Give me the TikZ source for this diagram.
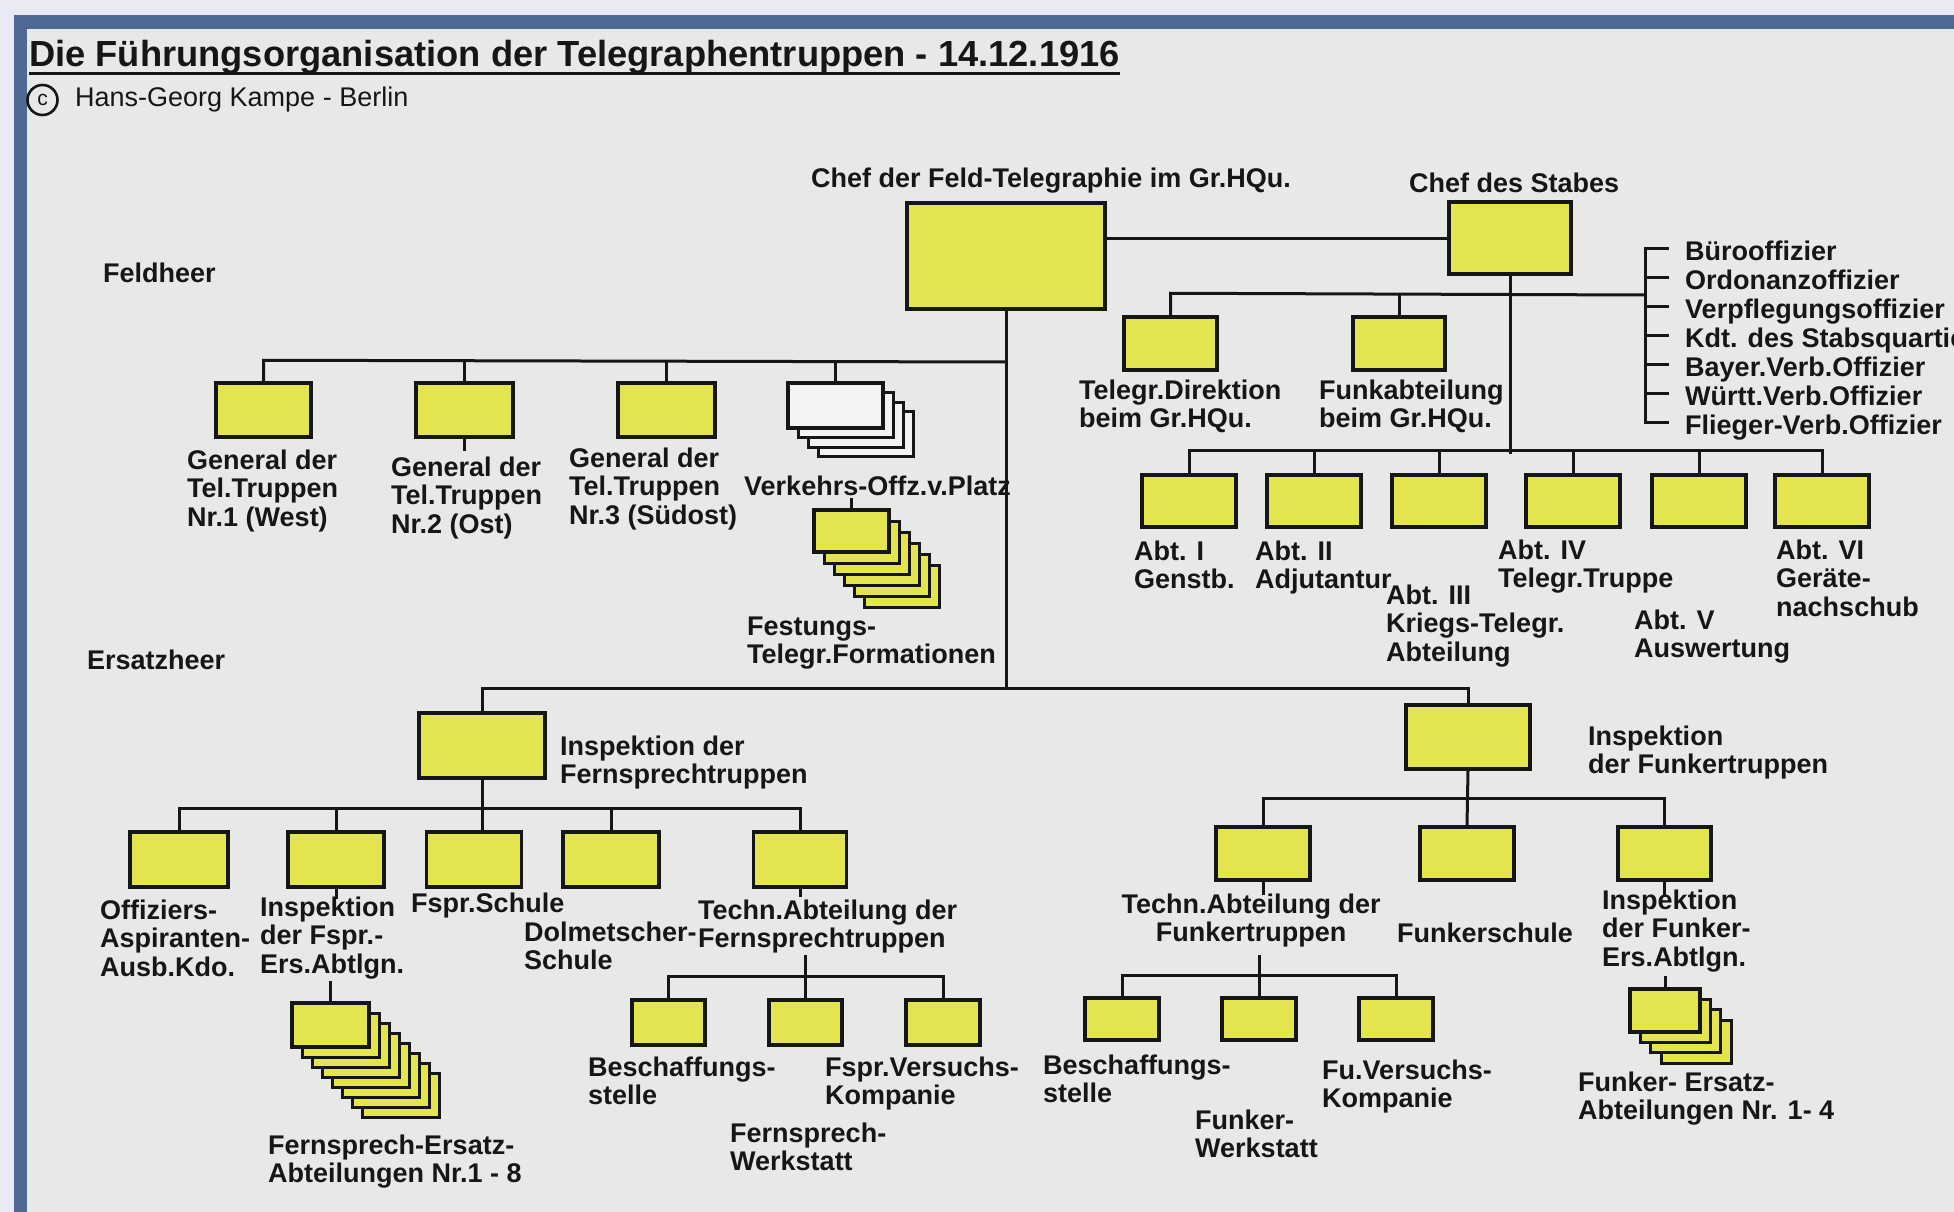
\documentclass[tikz,border=0pt]{standalone}
\usepackage{fontspec}
\setmainfont{Liberation Sans}
\usetikzlibrary{calc}
\definecolor{outer}{HTML}{E9EAF4}
\definecolor{framec}{HTML}{4E6A93}
\definecolor{paper}{HTML}{E8E9E6}
\definecolor{yel}{HTML}{E3E54E}
\definecolor{ink}{HTML}{161616}
\definecolor{sheetw}{HTML}{F2F3F2}
\newcommand\lblfont{\fontsize{27}{28.8}\selectfont\bfseries}
\begin{document}
\begin{tikzpicture}[x=1pt,y=-1pt,
  conn/.style={draw=ink, line width=3pt},
  boxs/.style={draw=ink, line width=3.5pt, fill=yel, inner sep=0pt, rectangle},
  bx/.style 2 args={boxs, minimum width=#1pt, minimum height=#2pt},
  sheet/.style={draw=ink, line width=3pt, fill=yel},
  wsheet/.style={draw=ink, line width=3pt, fill=sheetw},
  lab/.style={font=\lblfont, text=ink, align=left, inner sep=0pt, anchor=base west},
  labtwo/.style={lab, yshift=-28.8pt},
  labthree/.style={lab, yshift=-57.6pt},
  labctwo/.style={font=\lblfont, text=ink, align=center, inner sep=0pt, anchor=base, yshift=-28.8pt}]
\useasboundingbox (0,0) rectangle (1954,1212);
\clip (0,0) rectangle (1954,1212);
% background and frame
\fill[outer] (0,0) rectangle (1954,1212);
\fill[framec] (14,15) rectangle (1954,1212);
\fill[paper] (27,29) rectangle (1954,1212);

% title
\node[font=\fontsize{36.3}{40}\selectfont\bfseries, text=ink, inner sep=0pt, anchor=base west] (title) at (29,67) {Die Führungsorganisation der Telegraphentruppen - 14.12.1916};
\draw[line width=3pt, ink] ([yshift=-7pt]title.base west) -- ([yshift=-7pt]title.base east);
\node[circle, draw=ink, line width=2.6pt, inner sep=0pt, minimum size=30pt, text=ink, font=\fontsize{21}{21}\selectfont] (copy) at (42.5,100) {c};
\node[font=\fontsize{27}{30}\selectfont, text=ink, inner sep=0pt, anchor=base west] (author) at (75,107) {Hans-Georg Kampe - Berlin};

\node[lab] (feldheer) at (103,282) {Feldheer};
\node[lab] (ersatzheer) at (87,669) {Ersatzheer};

% top level
\node[bx={198}{106}] (chef) at (1006,256) {};
\node[bx={122}{72}] (stab) at (1510,238) {};
\node[lab] (chefL) at (811,187) {Chef der Feld-Telegraphie im Gr.HQu.};
\node[lab] (stabL) at (1409,192) {Chef des Stabes};
\draw[conn] (stab.west) -- (stab.west -| chef.east);

% Stab branch
\node[bx={93}{53}] (tdir) at (1170.5,343.5) {};
\node[bx={92}{53}] (funk) at (1399,343.5) {};
\node[labtwo] (tdirL) at (1079,399) {Telegr.Direktion\\beim Gr.HQu.};
\node[labtwo] (funkL) at (1319,399) {Funkabteilung\\beim Gr.HQu.};
\node[lab] (b1) at (1685,260) {Bürooffizier};
\node[lab] (b2) at (1685,289) {Ordonanzoffizier};
\node[lab] (b3) at (1685,318) {Verpflegungsoffizier};
\node[lab] (b4) at (1685,347) {Kdt. des Stabsquartiers};
\node[lab] (b5) at (1685,376) {Bayer.Verb.Offizier};
\node[lab] (b6) at (1685,405) {Württ.Verb.Offizier};
\node[lab] (b7) at (1685,434) {Flieger-Verb.Offizier};
\coordinate (brk) at (1645,295);
\draw[conn] ([xshift=-16pt,yshift=12pt]b1.base west) -- ++(-24,0) |- ([xshift=-16pt,yshift=12pt]b7.base west);
\foreach \b in {b2,b3,b4,b5,b6}
  \draw[conn] ([xshift=-16pt,yshift=12pt]\b.base west) -- ++(-24,0);
\draw[conn] (tdir.north) -- ++(0,-22) -- (brk);
\draw[conn] (funk.north) -- ++(0,-22);
\draw[conn] (stab.south) -- ++(0,178);

% Abt row
\node[bx={94}{52}] (abt1) at (1189,501) {};
\node[bx={94}{52}] (abt2) at (1314,501) {};
\node[bx={94}{52}] (abt3) at (1439,501) {};
\node[bx={94}{52}] (abt4) at (1573,501) {};
\node[bx={94}{52}] (abt5) at (1699,501) {};
\node[bx={94}{52}] (abt6) at (1822,501) {};
\draw[conn] (abt1.north) -- ++(0,-23) -| (abt6.north);
\foreach \a in {abt2,abt3,abt4,abt5}
  \draw[conn] (\a.north) -- ++(0,-23);
\node[labtwo] (abt1L) at (1134,560) {Abt. I\\Genstb.};
\node[labtwo] (abt2L) at (1255,560) {Abt. II\\Adjutantur};
\node[labthree] (abt3L) at (1386,604) {Abt. III\\Kriegs-Telegr.\\Abteilung};
\node[labtwo] (abt4L) at (1498,559) {Abt. IV\\Telegr.Truppe};
\node[labtwo] (abt5L) at (1634,629) {Abt. V\\Auswertung};
\node[labthree] (abt6L) at (1776,559) {Abt. VI\\Geräte-\\nachschub};

% Feldheer row
\coordinate (fb) at (1006,362);
\node[bx={95}{54}] (gen1) at (263.5,410) {};
\node[bx={97}{54}] (gen2) at (464.5,410) {};
\node[bx={97}{54}] (gen3) at (666.5,410) {};
\foreach \i in {3,2,1}
  \draw[wsheet] (788+10*\i,383+9.5*\i) rectangle ++(95,45);
\node[boxs, fill=sheetw, minimum width=95pt, minimum height=45pt] (verk) at (835.5,405.5) {};
\draw[conn] (gen1.north) -- ++(0,-21) -- (fb);
\draw[conn] (gen2.north) -- ++(0,-21);
\draw[conn] (gen3.north) -- ++(0,-21);
\draw[conn] (verk.north) -- ++(0,-21);
\draw[conn] (gen2.south) -- ++(0,12);
\node[labthree] (gen1L) at (187,469) {General der\\Tel.Truppen\\Nr.1 (West)};
\node[labthree] (gen2L) at (391,476) {General der\\Tel.Truppen\\Nr.2 (Ost)};
\node[labthree] (gen3L) at (569,467) {General der\\Tel.Truppen\\Nr.3 (Südost)};
\node[lab] (verkL) at (744,495) {Verkehrs-Offz.v.Platz};
\foreach \i in {5,4,3,2,1}
  \draw[sheet] (814+10*\i,510+11*\i) rectangle ++(75,42);
\node[bx={75}{42}] (fest) at (851.5,531) {};
\draw[conn] (fest.north) -- ++(0,-10);
\node[labtwo] (festL) at (747,635) {Festungs-\\Telegr.Formationen};

% Ersatzheer
\coordinate (eb) at (1006,690);
\draw[conn] (chef.south) -- (eb);
\node[bx={126}{65}] (ifern) at (482,745.5) {};
\node[bx={124}{64}] (ifunk) at (1468,737) {};
\draw[conn] (ifern.north) -- ++(0,-23) -| (ifunk.north);
\node[labtwo] (ifernL) at (560,755) {Inspektion der\\Fernsprechtruppen};
\node[labtwo] (ifunkL) at (1588,745) {Inspektion\\der Funkertruppen};

% Fernsprech children
\node[bx={98}{55}] (of) at (179,859.5) {};
\node[bx={96}{55}] (isf) at (336,859.5) {};
\node[bx={95}{55}] (fs) at (474,859.5) {};
\node[bx={96}{55}] (dol) at (611,859.5) {};
\node[bx={93}{55}] (tafern) at (800,859.5) {};
\draw[conn] (ifern.south) -- (ifern.south |- fs.north);
\draw[conn] (of.north) -- ++(0,-22) -| (tafern.north);
\foreach \a in {isf,dol}
  \draw[conn] (\a.north) -- ++(0,-22);
\draw[conn] (isf.south) -- ++(0,10);
\draw[conn] (tafern.south) -- ++(0,8);
\node[labthree] (ofL) at (100,919) {Offiziers-\\Aspiranten-\\Ausb.Kdo.};
\node[labthree] (isfL) at (260,916) {Inspektion\\der Fspr.-\\Ers.Abtlgn.};
\node[lab] (fsL) at (411,912) {Fspr.Schule};
\node[labtwo] (dolL) at (524,941) {Dolmetscher-\\Schule};
\node[labtwo] (tafernL) at (698,919) {Techn.Abteilung der\\Fernsprechtruppen};

% Fernsprech-Ersatz stack
\foreach \i in {7,6,...,1}
  \draw[sheet] (292+10*\i,1003+10*\i) rectangle ++(77,44);
\node[bx={77}{44}] (fe) at (330.5,1025) {};
\draw[conn] (fe.north) -- ++(0,-20);
\node[labtwo] (feL) at (268,1154) {Fernsprech-Ersatz-\\Abteilungen Nr.1 - 8};

% Techn. Abt. Fernsprech children
\node[bx={73}{45}] (tf1) at (668.5,1022.5) {};
\node[bx={73}{45}] (tf2) at (805.5,1022.5) {};
\node[bx={74}{45}] (tf3) at (943,1022.5) {};
\draw[conn] (tf1.north) -- ++(0,-22) -| (tf3.north);
\draw[conn] (tf2.north) -- ++(0,-43);
\node[labtwo] (tf1L) at (588,1076) {Beschaffungs-\\stelle};
\node[labtwo] (tf3L) at (825,1076) {Fspr.Versuchs-\\Kompanie};
\node[labtwo] (tf2L) at (730,1142) {Fernsprech-\\Werkstatt};

% Funker children
\node[bx={94}{53}] (tafu) at (1263,853.5) {};
\node[bx={94}{53}] (fsch) at (1467,853.5) {};
\node[bx={93}{53}] (ifue) at (1664.5,853.5) {};
\draw[conn] (ifunk.south) -- (fsch.north);
\draw[conn] (tafu.north) -- ++(0,-27) -| (ifue.north);
\draw[conn] (tafu.south) -- ++(0,13);
\draw[conn] (ifue.south) -- ++(0,15);
\node[labctwo] (tafuL) at (1251,913) {Techn.Abteilung der\\Funkertruppen};
\node[lab] (fschL) at (1397,942) {Funkerschule};
\node[labthree] (ifueL) at (1602,909) {Inspektion\\der Funker-\\Ers.Abtlgn.};

% Techn. Abt. Funker children
\node[bx={74}{42}] (tu1) at (1122,1019) {};
\node[bx={74}{42}] (tu2) at (1259,1019) {};
\node[bx={74}{42}] (tu3) at (1396,1019) {};
\draw[conn] (tu1.north) -- ++(0,-21) -| (tu3.north);
\draw[conn] (tu2.north) -- ++(0,-41);
\node[labtwo] (tu1L) at (1043,1074) {Beschaffungs-\\stelle};
\node[labtwo] (tu2L) at (1195,1129) {Funker-\\Werkstatt};
\node[labtwo] (tu3L) at (1322,1079) {Fu.Versuchs-\\Kompanie};

% Funker-Ersatz stack
\foreach \i in {3,2,1}
  \draw[sheet] (1630+10.4*\i,989+10.4*\i) rectangle ++(70,43);
\node[bx={70}{43}] (fue) at (1665,1010.5) {};
\draw[conn] (fue.north) -- ++(0,-11);
\node[labtwo] (fueL) at (1578,1091) {Funker- Ersatz-\\Abteilungen Nr. 1- 4};
\end{tikzpicture}
\end{document}
